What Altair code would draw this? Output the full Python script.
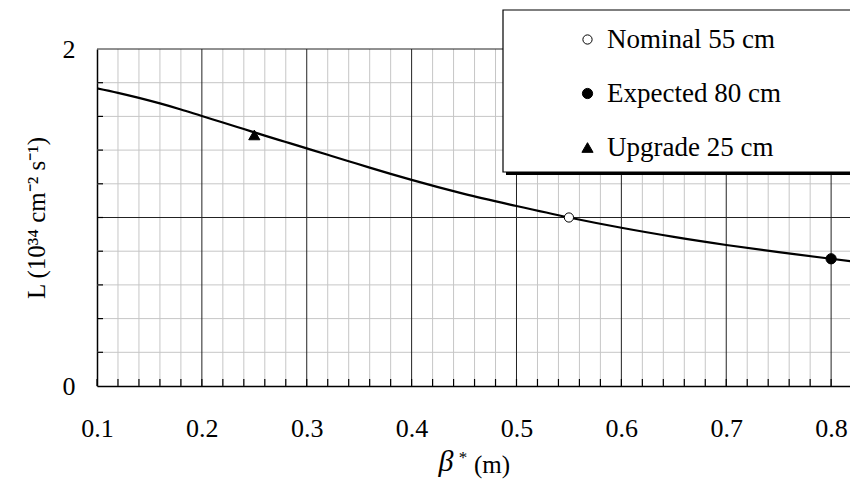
import altair as alt
import pandas as pd

# ---------------- data ----------------
beta = [0.10, 0.12, 0.14, 0.16, 0.18, 0.20, 0.22, 0.24, 0.26, 0.28, 0.30,
        0.32, 0.34, 0.36, 0.38, 0.40, 0.45, 0.50, 0.55, 0.60, 0.65, 0.70,
        0.75, 0.80, 0.82]
lumi = [1.767, 1.740, 1.710, 1.677, 1.641, 1.602, 1.564, 1.525, 1.486, 1.448,
        1.410, 1.372, 1.334, 1.296, 1.259, 1.223, 1.140, 1.068, 1.000, 0.939,
        0.885, 0.837, 0.794, 0.755, 0.740]

pt_labels = ["Nominal 55 cm", "Expected 80 cm", "Upgrade 25 cm"]
pt_beta = [0.55, 0.80, 0.25]
pt_lumi = [1.00, 0.755, 1.49]

x_major = [0.2, 0.3, 0.4, 0.5, 0.6, 0.7, 0.8]
x_minor = [0.12, 0.14, 0.16, 0.18, 0.22, 0.24, 0.26, 0.28, 0.32, 0.34, 0.36,
           0.38, 0.42, 0.44, 0.46, 0.48, 0.52, 0.54, 0.56, 0.58, 0.62, 0.64,
           0.66, 0.68, 0.72, 0.74, 0.76, 0.78, 0.82]
x_ticks = [0.10, 0.12, 0.14, 0.16, 0.18, 0.20, 0.22, 0.24, 0.26, 0.28, 0.30,
           0.32, 0.34, 0.36, 0.38, 0.40, 0.42, 0.44, 0.46, 0.48, 0.50, 0.52,
           0.54, 0.56, 0.58, 0.60, 0.62, 0.64, 0.66, 0.68, 0.70, 0.72, 0.74,
           0.76, 0.78, 0.80]
x_labels = [0.1, 0.2, 0.3, 0.4, 0.5, 0.6, 0.7, 0.8]
y_major = [1, 2]
y_minor = [0.2, 0.4, 0.6, 0.8, 1.2, 1.4, 1.6, 1.8]
y_ticks = [0.2, 0.4, 0.6, 0.8, 1.0, 1.2, 1.4, 1.6, 1.8]
y_labels = [0, 1, 2]

FONT = "Liberation Serif"
W, H = 753, 337

curve = pd.DataFrame({"x": beta, "y": lumi})
pts = pd.DataFrame({"x": pt_beta, "y": pt_lumi, "label": pt_labels})
one = pd.DataFrame({"k": [0]})

xs = alt.Scale(domain=[0.1, 0.818], nice=False, zero=False)
ys = alt.Scale(domain=[0, 2], nice=False, zero=True)

xaxis = alt.Axis(values=x_labels, format=".1f", grid=False, ticks=False,
                 domainColor="black", domainWidth=1.5, labelFontSize=26,
                 labelFont=FONT, labelColor="black", labelPadding=29,
                 labelFontWeight="normal",
                 labelFlush=False, labelOverlap=False, title=None)
yaxis = alt.Axis(values=y_labels, format="d", grid=False, ticks=False,
                 domainColor="black", domainWidth=1.5, labelFontSize=26,
                 labelFont=FONT, labelColor="black", labelPadding=22,
                 labelFontWeight="normal", labelOverlap=False,
                 title="L (10\u00b3\u2074 cm\u207b\u00b2 s\u207b\u00b9)",
                 titleFontSize=25, titleFont=FONT, titleFontWeight="normal",
                 titleColor="black", titleAngle=270, titleX=-53, titleY=H / 2,
                 titleAlign="center", titleBaseline="alphabetic")


def X(field="x"):
    return alt.X(f"{field}:Q", scale=xs, axis=xaxis)


def Y(field="y"):
    return alt.Y(f"{field}:Q", scale=ys, axis=yaxis)


def LEG():
    return alt.Legend(title=None, orient="none", legendX=406, legendY=-39,
                      fillColor="transparent", strokeColor="transparent",
                      padding=16,
                      labelFontSize=27, labelFont=FONT, labelColor="black",
                      labelFontWeight="normal", labelLimit=400, rowPadding=26,
                      symbolOffset=55, labelOffset=6,
                      symbolStrokeColor="black", symbolStrokeWidth=1)


minor_v = alt.Chart(pd.DataFrame({"x": x_minor})).mark_rule(
    color="#c6c6c6", strokeWidth=1).encode(x=X())
minor_h = alt.Chart(pd.DataFrame({"y": y_minor})).mark_rule(
    color="#c6c6c6", strokeWidth=1).encode(y=Y())
major_v = alt.Chart(pd.DataFrame({"x": x_major})).mark_rule(
    color="#222222", strokeWidth=1).encode(x=X())
major_h = alt.Chart(pd.DataFrame({"y": y_major})).mark_rule(
    color="#222222", strokeWidth=1).encode(y=Y())

yt = alt.Chart(pd.DataFrame({"y": y_ticks})).mark_rule(
    color="black", strokeWidth=1.2).encode(
    y=Y(), x=alt.value(0), x2=alt.value(6))
xt = alt.Chart(pd.DataFrame({"x": x_ticks})).mark_rule(
    color="black", strokeWidth=1.2).encode(
    x=X(), y=alt.value(H - 7), y2=alt.value(H))

line = alt.Chart(curve).mark_line(color="black", strokeWidth=2.2,
                                  interpolate="monotone", clip=True).encode(
    x=X(), y=Y())

points = alt.Chart(pts).mark_point(filled=False, strokeWidth=1,
                                   opacity=1).encode(
    x=X(), y=Y(),
    shape=alt.Shape("label:N", sort=pt_labels,
                    scale=alt.Scale(domain=pt_labels,
                                    range=["circle", "circle", "triangle-up"]),
                    legend=LEG()),
    fill=alt.Fill("label:N", sort=pt_labels,
                  scale=alt.Scale(domain=pt_labels,
                                  range=["white", "black", "black"]),
                  legend=LEG()),
    stroke=alt.Stroke("label:N", sort=pt_labels,
                      scale=alt.Scale(domain=pt_labels,
                                      range=["black", "black", "black"]),
                      legend=LEG()),
    size=alt.Size("label:N", sort=pt_labels,
                  scale=alt.Scale(domain=pt_labels, range=[85, 125, 115]),
                  legend=LEG()),
)

# legend frame and its drop shadow (decoration behind the legend entries)
shadow = alt.Chart(one).mark_rect(color="black").encode(
    x=alt.value(409), x2=alt.value(W + 30), y=alt.value(-36),
    y2=alt.value(126))
frame = alt.Chart(one).mark_rect(fill="white", stroke="black",
                                 strokeWidth=1.2).encode(
    x=alt.value(406), x2=alt.value(W + 30), y=alt.value(-39),
    y2=alt.value(123))

# x-axis title pieces
t_beta = alt.Chart(one).mark_text(
    text="\u03b2", font=FONT, fontStyle="italic", fontWeight="normal",
    fontSize=30, align="center", baseline="alphabetic", color="black").encode(
    x=alt.value(349), y=alt.value(422))
t_star = alt.Chart(one).mark_text(
    text="*", font=FONT, fontSize=17, fontWeight="normal", align="center",
    baseline="alphabetic", color="black").encode(
    x=alt.value(366), y=alt.value(414))
t_m = alt.Chart(one).mark_text(
    text="(m)", font=FONT, fontSize=25, fontWeight="normal", align="left",
    baseline="alphabetic", color="black").encode(
    x=alt.value(377), y=alt.value(424))

chart = alt.layer(
    minor_v, minor_h, major_v, major_h, line, yt, xt, shadow, frame, points,
    t_beta, t_star, t_m
).properties(
    width=W, height=H, background="white",
    autosize=alt.AutoSizeParams(type="none"),
    padding={"left": 97, "top": 49, "right": 0, "bottom": 93},
).configure_view(stroke=None)

chart.save("out.html", embed_options={"renderer": "svg", "actions": False})
